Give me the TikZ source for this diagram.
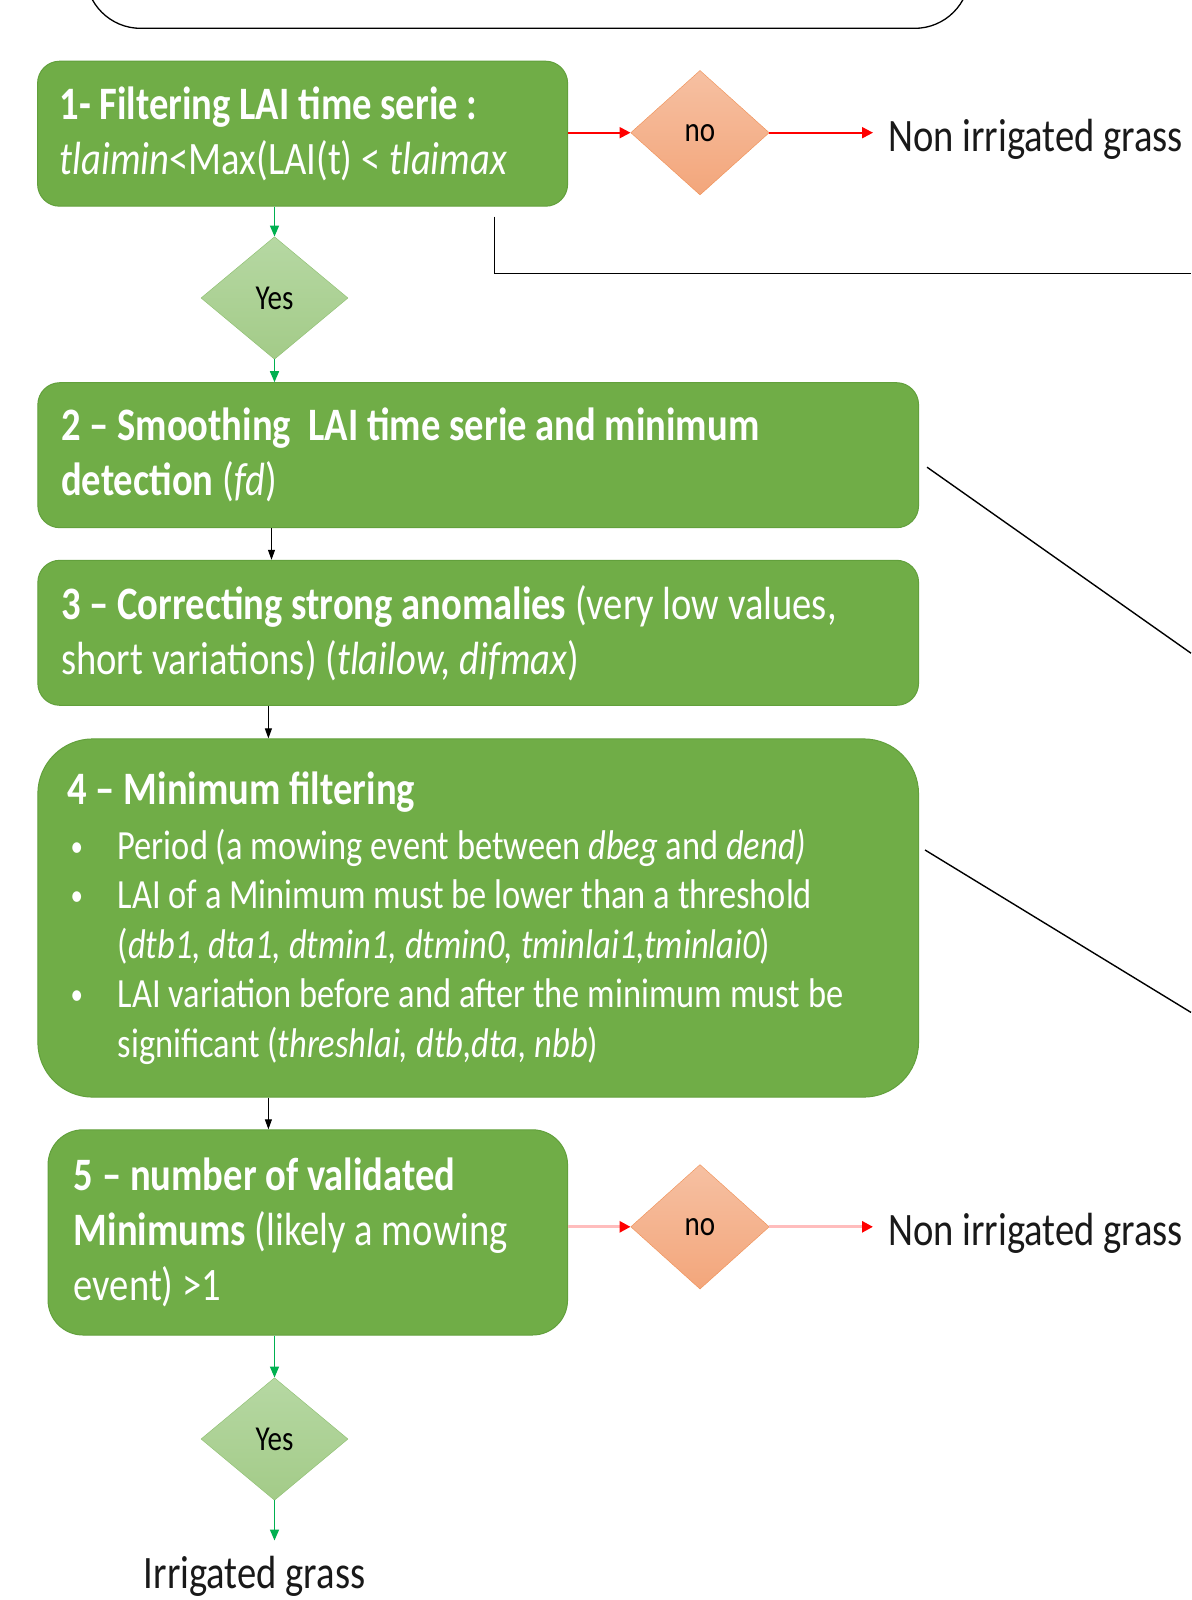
\documentclass[tikz,border=0pt]{standalone}
\usepackage{fontspec}
\setmainfont[FakeStretch=0.83]{Carlito}
\usetikzlibrary{shapes.geometric,arrows.meta,calc}
\definecolor{boxgreen}{HTML}{70AD47}
\definecolor{boxline}{HTML}{62A03C}
\definecolor{yestop}{HTML}{B6D8A3}
\definecolor{yesbot}{HTML}{A3CB88}
\definecolor{yesline}{HTML}{8CBF6E}
\definecolor{notop}{HTML}{F6C0A2}
\definecolor{nobot}{HTML}{F3A67B}
\definecolor{noline}{HTML}{F08E52}
\definecolor{arrowgreen}{HTML}{00B050}
\definecolor{lightred}{HTML}{FFBDBD}
\newcommand{\stepfont}{\fontsize{46.5}{55}\selectfont}
\newcommand{\critfont}{\fontsize{41.5}{49.5}\selectfont}
\newcommand{\critem}[1]{\par\hangindent=50pt\hangafter=1\noindent\makebox[50pt][l]{\hspace{3pt}\raisebox{3pt}{\fontsize{30}{30}\selectfont\textbullet}}#1\par}

\begin{document}
\begin{tikzpicture}[x=1pt,y=-1pt,every node/.style={inner sep=0pt},
  stepbox/.style={draw=boxline,line width=1pt,fill=boxgreen,text=white,align=flush left,font=\stepfont,rounded corners=22pt,inner xsep=22pt},
  nodiamond/.style={diamond,draw=noline,top color=notop,bottom color=nobot,minimum width=138.5pt,minimum height=124.5pt,font=\fontsize{35}{40}\selectfont},
  yesdiamond/.style={diamond,draw=yesline,top color=yestop,bottom color=yesbot,minimum width=147pt,minimum height=122.5pt,font=\fontsize{35}{40}\selectfont},
  outcome/.style={font=\stepfont,text=black!90,inner sep=15pt},
  noarrow/.style={draw=red,line width=2pt,-{Triangle[length=11pt,width=11pt]}},
  paleno/.style={draw=lightred,line width=3pt,-{Triangle[length=11pt,width=11pt,color=red]}},
  yesarrow/.style={draw=arrowgreen,line width=1.5pt,-{Triangle[length=11pt,width=9pt]}},
  flow/.style={draw=black,line width=1pt,-{Triangle[length=10pt,width=7pt]}},
  zoomline/.style={draw=black,line width=1.4pt}]

\fill[white] (0,0) rectangle (1191,1600);
\useasboundingbox (0,0) rectangle (1191,1600);

% frame cut by the top edge
\node[draw,line width=1.3pt,rounded corners=55pt,minimum width=884pt,minimum height=300pt,anchor=south west] (header) at (85,29) {};

\node[stepbox,text width=486pt,minimum width=530pt,minimum height=145pt] (box1) at (302.6,133.7)
  {\textbf{1- Filtering LAI time serie :}\\ \textit{tlaimin}<Max(LAI(t) < \textit{tlaimax}};
\node[nodiamond] (no1) at (700,132.7) {no};
\node[outcome,anchor=base west] (nonirrA) at (873,151) {Non irrigated grass};
\node[yesdiamond] (yes1) at (274.5,298) {Yes};

\node[stepbox,text width=834pt,minimum width=880.7pt,minimum height=145pt] (box2) at (478.2,455.2)
  {\textbf{2 – Smoothing~ LAI time serie and minimum}\\ \textbf{detection} (\textit{fd})};
\node[stepbox,text width=834pt,minimum width=880.7pt,minimum height=145pt] (box3) at (478.2,632.8)
  {\textbf{3 – Correcting strong anomalies} (very low values,\\ short variations) (\textit{tlailow, difmax})};
\node[stepbox,rounded corners=55pt,inner xsep=29.6pt,text width=821pt,minimum width=880.7pt,minimum height=358.2pt] (box4) at (478.2,918)
  {\textbf{4 – Minimum filtering}\par\vspace{5pt}\critfont
   \critem{Period (a mowing event between \textit{dbeg} and \textit{dend)}}
   \critem{LAI of a Minimum must be lower than a threshold\newline(\textit{dtb1, dta1, dtmin1, dtmin0, tminlai1,tminlai0})}
   \critem{LAI variation before and after the minimum must be\newline significant (\textit{threshlai, dtb,dta, nbb})}};

\node[stepbox,rounded corners=35pt,inner xsep=25.5pt,text width=468pt,minimum width=519.5pt,minimum height=205.2pt] (box5) at (307.8,1232.4)
  {\textbf{5 – number of validated}\\ \textbf{Minimums} (likely a mowing\\ event) >1};
\node[nodiamond] (no2) at (700,1226.8) {no};
\node[outcome,anchor=base west] (nonirrB) at (873,1245) {Non irrigated grass};
\node[yesdiamond] (yes2) at (274.5,1439) {Yes};
\node[outcome,anchor=base] (irrig) at (254.5,1588) {Irrigated grass};

\coordinate (cutA) at (1191,273.5);
\coordinate (cutB) at (1191,653.2);
\coordinate (cutC) at (1191,1012.4);

\draw[noarrow] (no1.west -| box1.east) -- (no1.west);
\draw[noarrow] (no1.east) -- (no1.east -| nonirrA.west);
\draw[yesarrow] (yes1.north |- box1.south) -- (yes1.north);
\draw[yesarrow] (yes1.south) -- (yes1.south |- box2.north);
\draw[flow] ([xshift=-206.7pt]box2.south) -- ([xshift=-206.7pt]box2.south |- box3.north);
\draw[flow] ([xshift=-209.8pt]box3.south) -- ([xshift=-209.8pt]box3.south |- box4.north);
\draw[flow] ([xshift=-209.8pt]box4.south) -- ([xshift=-209.8pt]box4.south |- box5.north);
\draw[paleno] (no2.west -| box5.east) -- (no2.west);
\draw[paleno] (no2.east) -- (no2.east -| nonirrB.west);
\draw[yesarrow] (yes2.north |- box5.south) -- (yes2.north);
\draw[yesarrow] (yes2.south) -- (yes2.south |- irrig.north);

% lines leaving the right edge
\draw[zoomline] ([xshift=-73.5pt,yshift=-10pt]box1.south east) |- (cutA);
\draw[zoomline] ([xshift=8pt,yshift=-12pt]box2.east) -- (cutB);
\draw[zoomline] ([xshift=6pt,yshift=68pt]box4.east) -- (cutC);
\end{tikzpicture}
\end{document}
